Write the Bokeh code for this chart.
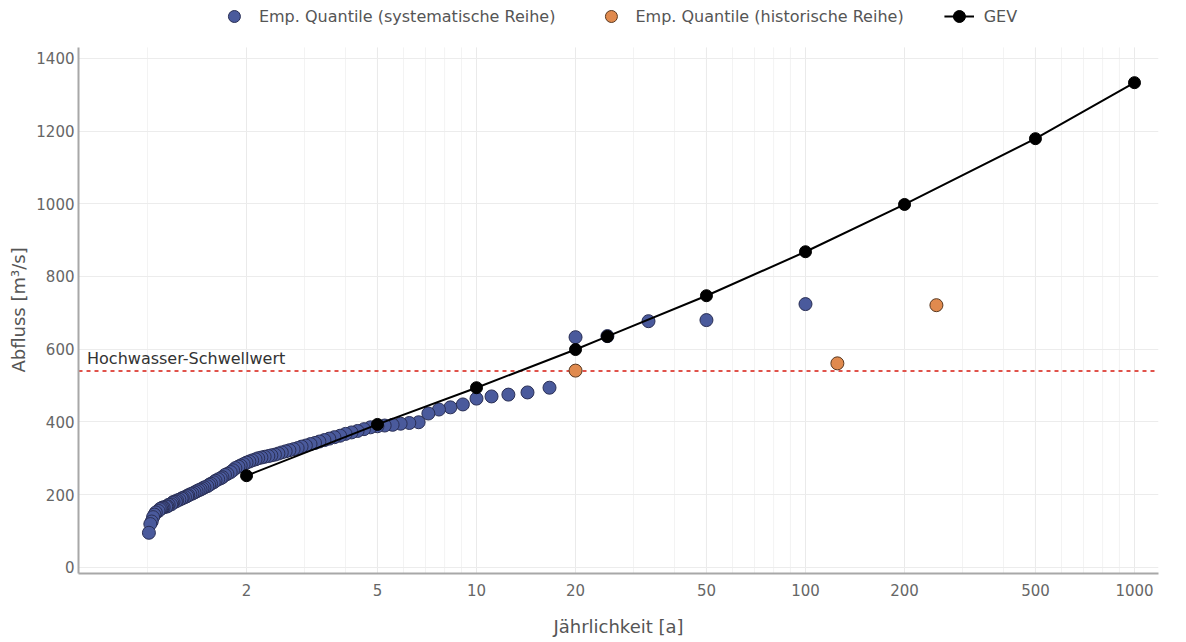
from bokeh.plotting import figure
from bokeh.models import (Range1d, FixedTicker, Span, Label, Legend, LegendItem,
                          NumeralTickFormatter, Title)
from bokeh.embed import file_html
from bokeh.resources import INLINE

# ---------------- data ----------------
sys_T = [100, 50, 33.33, 25, 20, 16.67, 14.29, 12.5, 11.11, 10,
         9.09, 8.33, 7.69, 7.14, 6.67, 6.25, 5.88, 5.56, 5.26, 5,
         4.76, 4.55, 4.35, 4.17, 4, 3.85, 3.7, 3.57, 3.45, 3.33,
         3.23, 3.13, 3.03, 2.94, 2.86, 2.78, 2.7, 2.63, 2.56, 2.5,
         2.44, 2.38, 2.33, 2.27, 2.22, 2.17, 2.13, 2.08, 2.04, 2,
         1.96, 1.92, 1.89, 1.85, 1.82, 1.79, 1.75, 1.72, 1.69, 1.67,
         1.64, 1.61, 1.59, 1.56, 1.54, 1.52, 1.49, 1.47, 1.45, 1.43,
         1.41, 1.39, 1.37, 1.35, 1.33, 1.32, 1.3, 1.28, 1.27, 1.25,
         1.23, 1.22, 1.2, 1.19, 1.18, 1.16, 1.15, 1.14, 1.12, 1.11,
         1.1, 1.09, 1.08, 1.06, 1.05, 1.04, 1.03, 1.02, 1.01]
sys_Q = [724, 680, 677, 636, 633, 494, 481, 475, 470, 464,
         448, 440, 434, 423, 399, 397, 395, 392, 390, 388,
         385, 380, 375, 371, 367, 362, 358, 354, 350, 346,
         342, 339, 335, 332, 328, 325, 322, 319, 316, 313,
         310, 308, 306, 304, 302, 300, 297, 294, 291, 288,
         284, 280, 277, 273, 267, 262, 257, 254, 248, 245,
         242, 238, 234, 230, 227, 223, 220, 217, 214, 212,
         209, 206, 203, 201, 198, 196, 193, 191, 189, 186,
         184, 181, 180, 177, 173, 172, 168, 167, 165, 164,
         162, 160, 155, 151, 145, 138, 126, 119, 95]

hist_T = [20, 125, 250]
hist_Q = [541, 561, 721]

gev_T = [2, 5, 10, 20, 25, 50, 100, 200, 500, 1000]
gev_Q = [252, 393, 494, 599, 635, 747, 868, 998, 1179, 1333]

threshold = 540
threshold_label = "Hochwasser-Schwellwert"

x_ticks = [2, 5, 10, 20, 50, 100, 200, 500, 1000]
x_minor = [1, 3, 4, 6, 7, 8, 9, 30, 40, 60, 70, 80, 90,
           300, 400, 600, 700, 800, 900]
y_ticks = [0, 200, 400, 600, 800, 1000, 1200, 1400]

# plotted value range (axis extent) and extra head-room for the legend
Y_LO, Y_HI, Y_TOP = -17, 1430, 1559

FONT = "DejaVu Sans"

# ---------------- figure ----------------
p = figure(width=1180, height=640, x_axis_type="log",
           x_range=Range1d(0.617, 1183), y_range=Range1d(Y_LO, Y_TOP),
           output_backend="svg", toolbar_location=None,
           min_border_left=78, min_border_right=22,
           min_border_top=0, min_border_bottom=67)
p.outline_line_color = None
p.background_fill_color = "white"

# grids (vertical grid drawn as bounded segments)
p.xgrid.grid_line_color = None
p.ygrid.grid_line_color = "#ececec"
p.segment(x0=x_minor, y0=[Y_LO] * len(x_minor), x1=x_minor,
          y1=[Y_HI] * len(x_minor), line_color="#f3f3f3", line_width=1,
          level="underlay")
p.segment(x0=x_ticks, y0=[Y_LO] * len(x_ticks), x1=x_ticks,
          y1=[Y_HI] * len(x_ticks), line_color="#eaeaea", line_width=1,
          level="underlay")

# axes
for ax in (p.xaxis, p.yaxis):
    ax.axis_line_color = "#a8a8a8"
    ax.axis_line_width = 2
    ax.major_tick_line_color = None
    ax.minor_tick_line_color = None
    ax.major_tick_out = 0
    ax.major_tick_in = 0
    ax.minor_tick_out = 0
    ax.minor_tick_in = 0
    ax.major_label_text_font = FONT
    ax.major_label_text_font_size = "15px"
    ax.major_label_text_color = "#666666"
    ax.axis_label_text_font = FONT
    ax.axis_label_text_font_size = "18px"
    ax.axis_label_text_font_style = "normal"
    ax.axis_label_text_color = "#555555"

p.xaxis.ticker = FixedTicker(ticks=x_ticks, minor_ticks=x_minor)
p.xaxis.formatter = NumeralTickFormatter(format="0")
p.xaxis.major_label_standoff = 10
p.xaxis.axis_label = "Jährlichkeit [a]"
p.xaxis.axis_label_standoff = 17

p.yaxis.ticker = FixedTicker(ticks=y_ticks)
p.yaxis.bounds = (Y_LO, Y_HI)
p.yaxis.major_label_standoff = 4

# y-axis title as a left-side title, centred on the axis extent
p.add_layout(Title(text="Abfluss [m³/s]", align="left", offset=201,
                   vertical_align="middle", standoff=7, text_font=FONT,
                   text_font_size="18px", text_font_style="normal",
                   text_color="#555555"), "left")

# threshold
span = Span(location=threshold, dimension="width", line_color="#e0524a",
            line_dash="4 4", line_width=2, level="underlay")
p.add_layout(span)
p.add_layout(Label(x=0.655, y=threshold, text=threshold_label, y_offset=12,
                   text_baseline="alphabetic", text_font=FONT,
                   text_font_size="16px", text_color="#333333"))

# data
r_sys = p.scatter(sys_T, sys_Q, size=13, fill_color="#4a5a9c",
                  line_color="#2a2f55", line_width=1)
r_hist = p.scatter(hist_T, hist_Q, size=13, fill_color="#e08a4e",
                   line_color="#5a3a22", line_width=1)
r_gev_l = p.line(gev_T, gev_Q, line_color="black", line_width=2)
r_gev_p = p.scatter(gev_T, gev_Q, size=12, fill_color="black",
                    line_color="black")

legend = Legend(items=[
    LegendItem(label="Emp. Quantile (systematische Reihe)", renderers=[r_sys]),
    LegendItem(label="Emp. Quantile (historische Reihe)", renderers=[r_hist]),
    LegendItem(label="GEV", renderers=[r_gev_l, r_gev_p]),
], location="top_center", orientation="horizontal", margin=1, padding=2,
    glyph_width=30, glyph_height=30, label_standoff=10, spacing=40,
    label_text_font=FONT, label_text_font_size="16px",
    label_text_color="#555555", border_line_color=None,
    background_fill_alpha=0)
p.add_layout(legend)

open("out.html", "w").write(file_html(p, INLINE))
